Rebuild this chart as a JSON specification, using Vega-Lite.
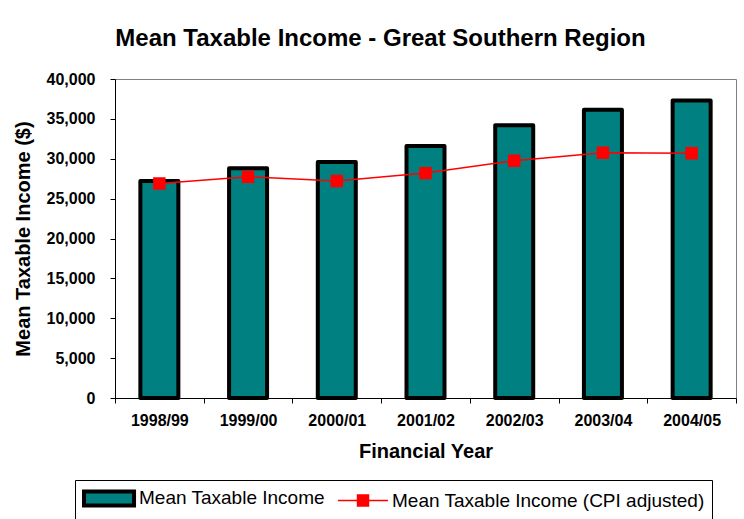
{
  "$schema": "https://vega.github.io/schema/vega-lite/v6.json",
  "width": 621,
  "height": 319,
  "autosize": {"type": "none"},
  "padding": {"left": 115, "top": 79, "right": 8, "bottom": 121},
  "background": "white",
  "title": {
    "text": "Mean Taxable Income - Great Southern Region",
    "font": "Liberation Sans",
    "fontSize": 24,
    "fontWeight": "bold",
    "color": "black",
    "anchor": "middle",
    "dx": -45,
    "offset": 20
  },
  "data": {
    "values": [
      {"year": "1998/99", "income": 27200, "cpi": 26900},
      {"year": "1999/00", "income": 28800, "cpi": 27750},
      {"year": "2000/01", "income": 29600, "cpi": 27200},
      {"year": "2001/02", "income": 31600, "cpi": 28200},
      {"year": "2002/03", "income": 34200, "cpi": 29750},
      {"year": "2003/04", "income": 36150, "cpi": 30750},
      {"year": "2004/05", "income": 37300, "cpi": 30700}
    ]
  },
  "config": {
    "view": {"stroke": "#808080", "strokeWidth": 1},
    "axis": {
      "grid": false,
      "domainColor": "black",
      "tickColor": "black",
      "labelColor": "black",
      "titleColor": "black",
      "labelFont": "Liberation Sans",
      "titleFont": "Liberation Sans",
      "labelFontWeight": "bold",
      "titleFontWeight": "bold",
      "labelFontSize": 16,
      "titleFontSize": 20,
      "tickSize": 5,
      "labelOverlap": false
    },
    "axisY": {"tickCount": 8},
    "legend": {
      "title": null,
      "orient": "none",
      "legendX": -40,
      "legendY": 401,
      "direction": "horizontal",
      "strokeColor": "black",
      "padding": 7,
      "labelFont": "Liberation Sans",
      "labelFontSize": 19,
      "labelColor": "black",
      "labelLimit": 0,
      "labelOffset": 35,
      "columnPadding": 10,
      "symbolSize": 324
    }
  },
  "encoding": {
    "x": {
      "field": "year",
      "type": "nominal",
      "sort": null,
      "scale": {"paddingInner": 0, "paddingOuter": 0},
      "axis": {
        "title": "Financial Year",
        "labelAngle": 0,
        "labelPadding": 9,
        "titlePadding": 13,
        "tickBand": "extent"
      }
    }
  },
  "layer": [
    {
      "mark": {"type": "bar", "size": 38, "strokeJoin": "round"},
      "encoding": {
        "y": {
          "field": "income",
          "type": "quantitative",
          "scale": {"domain": [0, 40000], "nice": false},
          "axis": {
            "title": "Mean Taxable Income ($)",
            "tickCount": 8,
            "format": ",d",
            "labelPadding": 15,
            "titlePadding": 13
          }
        },
        "fill": {
          "datum": "Mean Taxable Income",
          "type": "nominal",
          "scale": {
            "domain": ["Mean Taxable Income", "Mean Taxable Income (CPI adjusted)"],
            "range": ["#008080", "#ff0000"]
          },
          "legend": {"title": null}
        },
        "stroke": {
          "datum": "Mean Taxable Income",
          "type": "nominal",
          "scale": {
            "domain": ["Mean Taxable Income", "Mean Taxable Income (CPI adjusted)"],
            "range": ["black", "#ff0000"]
          },
          "legend": {"title": null}
        },
        "strokeWidth": {
          "datum": "Mean Taxable Income",
          "type": "ordinal",
          "scale": {
            "type": "point",
            "padding": 0,
            "domain": ["Mean Taxable Income", "Mean Taxable Income (CPI adjusted)"],
            "range": [4, 1.5]
          },
          "legend": {"title": null}
        }
      }
    },
    {
      "mark": {"type": "line", "point": {"shape": "square", "size": 120, "filled": true, "fill": "#ff0000", "opacity": 1}},
      "encoding": {
        "y": {"field": "cpi", "type": "quantitative"},
        "stroke": {"datum": "Mean Taxable Income (CPI adjusted)", "type": "nominal"},
        "strokeWidth": {"datum": "Mean Taxable Income (CPI adjusted)", "type": "ordinal"}
      }
    },
    {
      "mark": {"type": "point", "size": 0, "filled": true, "opacity": 1},
      "encoding": {
        "y": {"field": "cpi", "type": "quantitative"},
        "shape": {
          "datum": "Mean Taxable Income (CPI adjusted)",
          "type": "nominal",
          "scale": {
            "domain": ["Mean Taxable Income", "Mean Taxable Income (CPI adjusted)"],
            "range": ["M-1,-0.78H4.56V0.78H-1Z", "M-1,0H4.56M1.17,-0.61H2.39V0.61H1.17Z"]
          },
          "legend": {"title": null}
        }
      }
    }
  ]
}
